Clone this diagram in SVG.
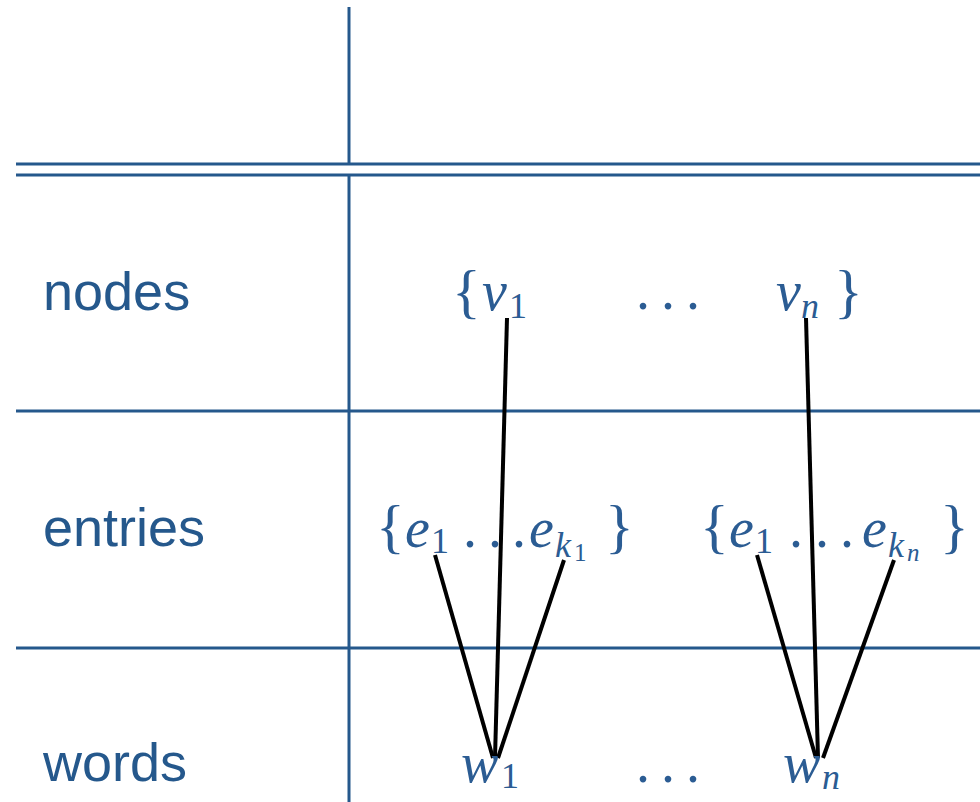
<svg xmlns="http://www.w3.org/2000/svg" width="980" height="802" viewBox="0 0 980 802">
  <style>
    .rule { stroke: #25588c; stroke-width: 3; fill: none; }
    .label { font-family: "Liberation Sans", Arial, sans-serif; font-size: 54px; fill: #25588c; }
    .m { font-family: "Liberation Serif", "Times New Roman", serif; fill: #2b5c93; font-size: 56px; }
    .var { font-style: italic; }
    .up { font-style: normal; }
    .brace { font-size: 60px; font-style: normal; }
    .sub { font-size: 36px; }
    .sub2 { font-size: 25px; }
    .edge { stroke: #000; stroke-width: 4; fill: none; }
  </style>

  <!-- table rules -->
  <g id="grid">
    <line class="rule" x1="349" y1="7" x2="349" y2="164"/>
    <line class="rule" x1="349" y1="175" x2="349" y2="802"/>
    <line class="rule" x1="16" y1="164" x2="980" y2="164"/>
    <line class="rule" x1="16" y1="175" x2="980" y2="175"/>
    <line class="rule" x1="16" y1="411" x2="980" y2="411"/>
    <line class="rule" x1="16" y1="648" x2="980" y2="648"/>
  </g>

  <!-- row headings -->
  <g id="row-labels">
    <text class="label" x="43" y="310">nodes</text>
    <text class="label" x="43" y="546">entries</text>
    <text class="label" x="43" y="781">words</text>
  </g>

  <!-- connectors -->
  <g id="connectors">
    <line class="edge" x1="507" y1="318" x2="495" y2="758"/>
    <line class="edge" x1="435" y1="555" x2="493" y2="758"/>
    <line class="edge" x1="564" y1="560" x2="498" y2="758"/>
    <line class="edge" x1="806" y1="318" x2="818" y2="758"/>
    <line class="edge" x1="757" y1="555" x2="816" y2="758"/>
    <line class="edge" x1="894" y1="560" x2="823" y2="758"/>
  </g>

  <!-- nodes row: {v1 ... vn} -->
  <g id="node-v1">
    <text class="m"><tspan class="brace" x="452" y="311">{</tspan><tspan class="var" x="482" y="310">v</tspan><tspan class="sub up" x="509" y="318">1</tspan></text>
  </g>
  <g id="node-dots">
    <text class="m up" x="636 661 686" y="309">...</text>
  </g>
  <g id="node-vn">
    <text class="m"><tspan class="var" x="776" y="310">v</tspan><tspan class="sub var" x="801" y="318">n</tspan><tspan class="brace" x="834" y="311">}</tspan></text>
  </g>

  <!-- entries row -->
  <g id="entries-1">
    <text class="m"><tspan class="brace" x="376" y="546">{</tspan><tspan class="var" x="405" y="547">e</tspan><tspan class="sub up" x="431" y="553">1</tspan><tspan class="up" x="463 488 512" y="547">...</tspan><tspan class="var" x="529" y="547">e</tspan><tspan class="sub var" x="555" y="557">k</tspan><tspan class="sub2 up" x="574" y="561">1</tspan><tspan class="brace" x="605" y="546">}</tspan></text>
  </g>
  <g id="entries-n">
    <text class="m"><tspan class="brace" x="700" y="546">{</tspan><tspan class="var" x="729" y="547">e</tspan><tspan class="sub up" x="755" y="553">1</tspan><tspan class="up" x="789 815 840" y="547">...</tspan><tspan class="var" x="862" y="547">e</tspan><tspan class="sub var" x="888" y="557">k</tspan><tspan class="sub2 var" x="907" y="561">n</tspan><tspan class="brace" x="940" y="546">}</tspan></text>
  </g>

  <!-- words row -->
  <g id="word-w1">
    <text class="m"><tspan class="var" x="461" y="782">w</tspan><tspan class="sub up" x="501" y="788">1</tspan></text>
  </g>
  <g id="word-dots">
    <text class="m up" x="636 661 686" y="782">...</text>
  </g>
  <g id="word-wn">
    <text class="m"><tspan class="var" x="783" y="782">w</tspan><tspan class="sub var" x="822" y="789">n</tspan></text>
  </g>
</svg>
